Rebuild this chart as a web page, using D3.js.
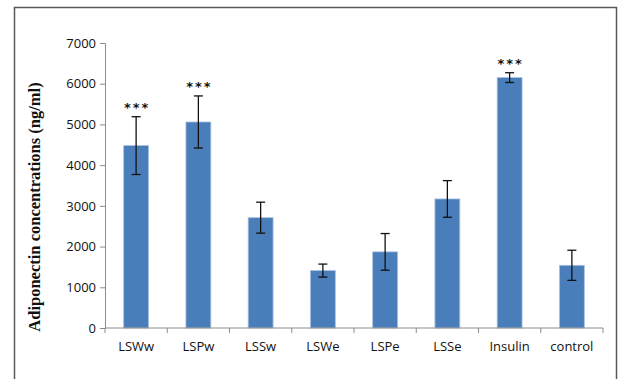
<!DOCTYPE html>
<html>
<head>
<meta charset="utf-8">
<script src="https://cdn.jsdelivr.net/npm/d3@7"></script>
<style>
  body { margin: 0; background: #fff; }
  svg { display: block; }
</style>
</head>
<body>
<div id="chart"></div>
<script>
const categories = ["LSWw", "LSPw", "LSSw", "LSWe", "LSPe", "LSSe", "Insulin", "control"];
const means = [4480, 5060, 2710, 1410, 1870, 3170, 6150, 1540];
const errors = [710, 640, 380, 160, 450, 450, 120, 370];
const stars = ["***", "***", "", "", "", "", "***", ""];
const yTicks = [0, 1000, 2000, 3000, 4000, 5000, 6000, 7000];

const width = 622, height = 379;
const margin = { left: 105, right: 19, top: 43, bottom: 51 };

const svg = d3.select("#chart").append("svg")
  .attr("width", width)
  .attr("height", height);

// outer frame
svg.append("rect")
  .attr("x", 14.5).attr("y", 7.5)
  .attr("width", 602).attr("height", 390)
  .attr("fill", "none")
  .attr("stroke", "#595959")
  .attr("stroke-width", 1.5);

const x = d3.scaleBand()
  .domain(categories)
  .range([margin.left, width - margin.right])
  .paddingInner(0.6)
  .paddingOuter(0.3);

const y = d3.scaleLinear()
  .domain([0, 7000])
  .range([height - margin.bottom, margin.top]);

const data = categories.map((c, i) => ({ cat: c, v: means[i], e: errors[i], s: stars[i] }));

// bars
svg.selectAll(".bar")
  .data(data)
  .enter().append("rect")
  .attr("class", "bar")
  .attr("x", d => x(d.cat))
  .attr("y", d => y(d.v))
  .attr("width", x.bandwidth())
  .attr("height", d => y(0) - y(d.v))
  .attr("fill", "#4a7ebb")
  .attr("stroke", "#a9c1e0")
  .attr("stroke-width", 0.8);

// y axis
const yAxis = svg.append("g")
  .attr("transform", `translate(${margin.left},0)`)
  .call(d3.axisLeft(y).tickValues(yTicks).tickSize(5).tickPadding(4).tickFormat(d3.format("d")));
yAxis.select(".domain").attr("stroke", "#8c8c8c");
yAxis.selectAll(".tick line").attr("stroke", "#8c8c8c");
yAxis.selectAll("text")
  .attr("font-family", "'Open Sans', 'Liberation Sans', sans-serif")
  .attr("font-size", "13px")
  .attr("fill", "#111");

// x axis
const xAxis = svg.append("g")
  .attr("transform", `translate(0,${y(0)})`);
xAxis.append("line")
  .attr("x1", margin.left).attr("x2", width - margin.right)
  .attr("stroke", "#8c8c8c");
xAxis.selectAll(".sep")
  .data(d3.range(categories.length + 1))
  .enter().append("line")
  .attr("x1", i => margin.left + i * (width - margin.right - margin.left) / categories.length)
  .attr("x2", i => margin.left + i * (width - margin.right - margin.left) / categories.length)
  .attr("y1", 0).attr("y2", 5)
  .attr("stroke", "#8c8c8c");
xAxis.selectAll(".lbl")
  .data(categories)
  .enter().append("text")
  .attr("x", d => x(d) + x.bandwidth() / 2)
  .attr("y", 23)
  .attr("text-anchor", "middle")
  .attr("font-family", "'Open Sans', 'Liberation Sans', sans-serif")
  .attr("font-size", "13px")
  .attr("fill", "#111")
  .text(d => d);

// error bars
const eb = svg.selectAll(".err")
  .data(data)
  .enter().append("g")
  .attr("stroke", "#111")
  .attr("stroke-width", 1.3);
eb.append("line")
  .attr("x1", d => x(d.cat) + x.bandwidth() / 2)
  .attr("x2", d => x(d.cat) + x.bandwidth() / 2)
  .attr("y1", d => y(d.v + d.e))
  .attr("y2", d => y(d.v - d.e));
eb.append("line")
  .attr("x1", d => x(d.cat) + x.bandwidth() / 2 - 4.5)
  .attr("x2", d => x(d.cat) + x.bandwidth() / 2 + 4.5)
  .attr("y1", d => y(d.v + d.e))
  .attr("y2", d => y(d.v + d.e));
eb.append("line")
  .attr("x1", d => x(d.cat) + x.bandwidth() / 2 - 4.5)
  .attr("x2", d => x(d.cat) + x.bandwidth() / 2 + 4.5)
  .attr("y1", d => y(d.v - d.e))
  .attr("y2", d => y(d.v - d.e));

// significance stars
svg.selectAll(".star")
  .data(data.filter(d => d.s))
  .enter().append("text")
  .attr("x", d => x(d.cat) + x.bandwidth() / 2 + 1)
  .attr("y", d => y(d.v + d.e) - 5)
  .attr("text-anchor", "middle")
  .attr("font-family", "'DejaVu Sans', sans-serif")
  .attr("font-weight", "bold")
  .attr("font-size", "13px")
  .attr("letter-spacing", "2px")
  .attr("fill", "#111")
  .text(d => d.s);

// y label
svg.append("text")
  .attr("transform", `translate(40,207) rotate(-90)`)
  .attr("text-anchor", "middle")
  .attr("font-family", "'Liberation Serif', 'Times New Roman', serif")
  .attr("font-weight", "bold")
  .attr("font-size", "16.5px")
  .attr("fill", "#111")
  .text("Adiponectin concentrations (ng/ml)");
</script>
</body>
</html>
